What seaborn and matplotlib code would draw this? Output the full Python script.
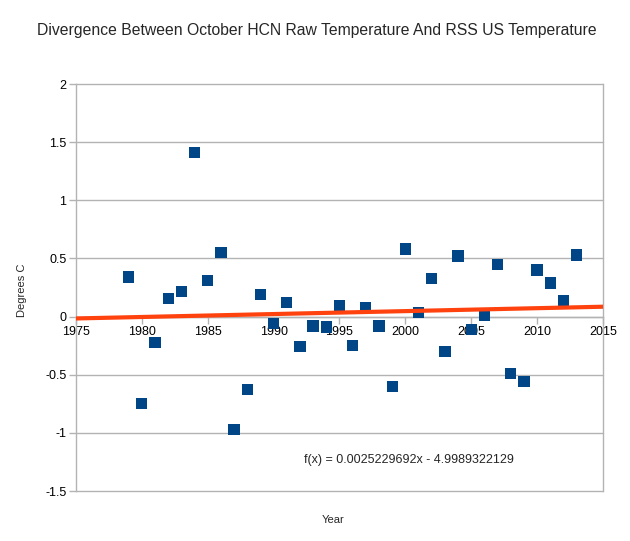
import numpy as np
import pandas as pd
import matplotlib
matplotlib.use("Agg")
import matplotlib.pyplot as plt
import seaborn as sns

# yearly divergence (HCN raw - RSS), October, degrees C
years = [1979, 1980, 1981, 1982, 1983, 1984, 1985, 1986, 1987, 1988,
         1989, 1990, 1991, 1992, 1993, 1994, 1995, 1996, 1997, 1998,
         1999, 2000, 2001, 2002, 2003, 2004, 2005, 2006, 2007, 2008,
         2009, 2010, 2011, 2012, 2013]
divergence = [0.34, -0.75, -0.22, 0.155, 0.215, 1.41, 0.31, 0.55, -0.97, -0.63,
              0.19, -0.06, 0.12, -0.26, -0.08, -0.09, 0.09, -0.25, 0.08, -0.08,
              -0.60, 0.58, 0.035, 0.33, -0.30, 0.52, -0.11, 0.01, 0.45, -0.49,
              -0.56, 0.40, 0.29, 0.14, 0.53]

# linear trend reported on the chart
slope = 0.0025229692
intercept = -4.9989322129
x_range = [1975, 2015]

df = pd.DataFrame({"Year": years, "Divergence": divergence})
df_trend = pd.DataFrame({"Year": x_range})
df_trend["Trend"] = slope * df_trend["Year"] + intercept

sns.set_style("white")
plt.rcParams["font.family"] = ["Liberation Sans", "DejaVu Sans"]

fig = plt.figure(figsize=(6.3, 5.41), dpi=100)
ax = fig.add_axes([0.1206, 0.0924, 0.8365, 0.7523])

grid_c = "#b3b3b3"
for yv in np.arange(-1.5, 2.01, 0.5):
    ax.axhline(yv, color=grid_c, lw=1, zorder=0, clip_on=False)

sns.scatterplot(data=df, x="Year", y="Divergence", marker="s", s=66,
                color="#004586", edgecolor="none", ax=ax, zorder=3)
sns.lineplot(data=df_trend, x="Year", y="Trend", color="#ff420e", lw=3,
             ax=ax, zorder=4)

ax.set_xlim(1975, 2015)
ax.set_ylim(-1.5, 2)
ax.set_xticks(range(1975, 2016, 5))
ax.set_yticks(np.arange(-1.5, 2.01, 0.5))
ax.set_yticklabels(["-1.5", "-1", "-0.5", "0", "0.5", "1", "1.5", "2"])

ax.spines["bottom"].set_position(("data", 0))
for s in ["left", "right", "bottom"]:
    ax.spines[s].set_color(grid_c)
    ax.spines[s].set_linewidth(1)
ax.spines["top"].set_visible(False)
ax.tick_params(axis="both", which="major", length=5, width=1, color=grid_c,
               labelsize=9, labelcolor="#000000", pad=2)
ax.tick_params(axis="x", direction="out", bottom=True)
ax.tick_params(axis="y", direction="out", left=True)

ax.set_xlabel("")
ax.set_ylabel("Degrees C", fontsize=8)
ax.yaxis.set_label_coords(-0.093, 0.494)
fig.text(0.529, 0.038, "Year", fontsize=8, ha="center", va="center")

ax.text(2000.3, -1.23, "f(x) = 0.0025229692x - 4.9989322129", fontsize=9,
        ha="center", va="center")

fig.suptitle("Divergence Between October HCN Raw Temperature And RSS US Temperature",
             fontsize=11.3, x=0.503, y=0.958)

fig.savefig("out.png", dpi=100, facecolor="white")
